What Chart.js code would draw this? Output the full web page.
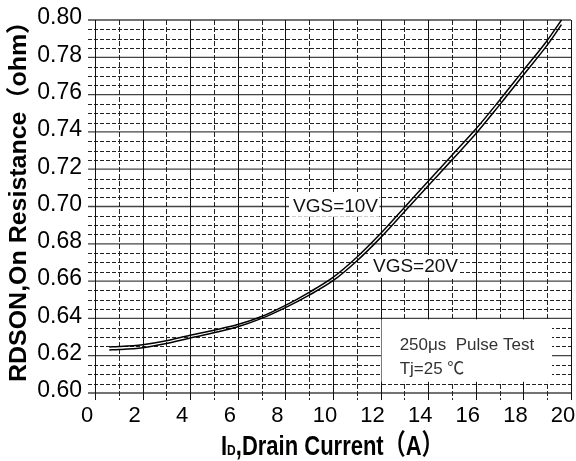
<!DOCTYPE html>
<html>
<head>
<meta charset="utf-8">
<script src="https://cdn.jsdelivr.net/npm/chart.js@4"></script>
<style>
  body { margin: 0; background: #fff; }
  canvas { display: block; }
</style>
</head>
<body>
<canvas id="chart" width="576" height="461"></canvas>
<script>
// drain current (A)
const currentA = [0.6, 1, 2, 3, 4, 5, 6, 7, 8, 9, 10, 11, 12, 13, 14, 15, 16, 17, 18, 19, 19.6];
// on resistance (ohm)
const rdsVgs10 = [0.6247, 0.6249, 0.6259, 0.6280, 0.6310, 0.6337, 0.6367, 0.6410, 0.6470, 0.6540, 0.6620,
  0.6728, 0.6855, 0.6995, 0.7135, 0.7275, 0.7415, 0.7570, 0.7730, 0.7890, 0.8000];
const rdsVgs20 = [0.6231, 0.6233, 0.6243, 0.6265, 0.6295, 0.6323, 0.6355, 0.6400, 0.6458, 0.6525, 0.6602,
  0.6708, 0.6833, 0.6972, 0.7111, 0.7250, 0.7390, 0.7545, 0.7705, 0.7865, 0.7975];

const xTicks = [0, 2, 4, 6, 8, 10, 12, 14, 16, 18, 20];
const yTicks = [0.60, 0.62, 0.64, 0.66, 0.68, 0.70, 0.72, 0.74, 0.76, 0.78, 0.80];
const xMinorStep = 1;
const yMinorStep = 0.005;

const seriesLabels = ["VGS=10V", "VGS=20V"];
const noteLines = ["250μs  Pulse Test", "Tj=25 ℃"];

const toPoints = (ys) => currentA.map((x, i) => ({ x: x, y: ys[i] }));

// grid, label boxes and axis titles
const decor = {
  id: "decor",
  beforeDatasetsDraw(chart) {
    const { ctx, chartArea: a, scales: { x, y } } = chart;
    ctx.save();

    // horizontal lines
    for (let v = 0.6; v <= 0.8001; v += yMinorStep) {
      const major = yTicks.some((t) => Math.abs(t - v) < 1e-6);
      const py = y.getPixelForValue(v);
      ctx.beginPath();
      if (major) {
        ctx.setLineDash([]);
        ctx.strokeStyle = "#444";
        ctx.lineWidth = 1.3;
        ctx.moveTo(a.left - 7, py);
      } else {
        ctx.setLineDash([4, 2]);
        ctx.strokeStyle = "#222";
        ctx.lineWidth = 1;
        ctx.moveTo(a.left - 7, Math.round(py) + 0.5);
      }
      ctx.lineTo(a.right, major ? py : Math.round(py) + 0.5);
      ctx.stroke();
    }

    // vertical lines
    for (let v = 0; v <= 20; v += xMinorStep) {
      const major = xTicks.includes(v);
      const px = Math.round(x.getPixelForValue(v)) + 0.5;
      ctx.beginPath();
      ctx.setLineDash(major ? [] : [5, 2]);
      ctx.strokeStyle = major ? "#111" : "#222";
      ctx.lineWidth = 1;
      ctx.moveTo(px, a.top);
      ctx.lineTo(px, a.bottom + 7);
      ctx.stroke();
    }
    ctx.setLineDash([]);

    const box = (x0, x1, y0, y1) => {
      const l = x.getPixelForValue(x0), r = x.getPixelForValue(x1);
      const t = y.getPixelForValue(y0), b = y.getPixelForValue(y1);
      ctx.fillStyle = "#fff";
      ctx.fillRect(l, t, r - l, b - t);
    };

    // series labels
    ctx.font = "19px 'Liberation Sans', Arial, sans-serif";
    ctx.textBaseline = "alphabetic";
    box(8.15, 11.95, 0.7078, 0.6945);
    ctx.fillStyle = "#111";
    ctx.fillText(seriesLabels[0], x.getPixelForValue(8.32), y.getPixelForValue(0.6971));
    box(11.55, 15.25, 0.6740, 0.6617);
    ctx.fillStyle = "#111";
    ctx.fillText(seriesLabels[1], x.getPixelForValue(11.68), y.getPixelForValue(0.6649));

    // test conditions note
    box(12.04, 19.2, 0.6395, 0.6060);
    ctx.font = "17px 'Liberation Sans', Arial, 'Noto Sans CJK SC', sans-serif";
    ctx.fillStyle = "#333";
    ctx.fillText(noteLines[0], x.getPixelForValue(12.8), y.getPixelForValue(0.6231));
    ctx.fillText(noteLines[1], x.getPixelForValue(12.8), y.getPixelForValue(0.6102));

    ctx.restore();
  },
  afterDraw(chart) {
    const { ctx } = chart;
    ctx.save();
    ctx.fillStyle = "#000";
    ctx.textBaseline = "alphabetic";
    ctx.textAlign = "left";

    // y title, reading upwards from the bottom
    ctx.translate(26, 382);
    ctx.rotate(-Math.PI / 2);
    ctx.scale(1.04, 1);
    ctx.font = "bold 24px 'Liberation Sans', Arial, 'Noto Sans CJK SC', sans-serif";
    ctx.fillText("RDSON,On Resistance（ohm）", 0, 0);
    ctx.setTransform(1, 0, 0, 1, 0, 0);

    // x title with subscript D, drawn a bit taller than wide like the original
    const big = "bold 22px 'Liberation Sans', Arial, 'Noto Sans CJK SC', sans-serif";
    const small = "bold 12px 'Liberation Sans', Arial, sans-serif";
    const rest = ",Drain Current（A）";
    ctx.translate(221, 455);
    ctx.scale(1, 1.28);
    let px = 0;
    ctx.font = big;
    ctx.fillText("I", px, 0);
    px += ctx.measureText("I").width;
    ctx.font = small;
    ctx.fillText("D", px, 0);
    px += ctx.measureText("D").width;
    ctx.font = big;
    ctx.fillText(rest, px, 0);
    ctx.restore();
  }
};

const tickFont = { family: "'Liberation Sans', Arial, sans-serif", size: 22 };

new Chart(document.getElementById("chart"), {
  type: "line",
  data: {
    datasets: [
      { label: seriesLabels[0], data: toPoints(rdsVgs10), borderColor: "#000", borderWidth: 1.5,
        pointRadius: 0, cubicInterpolationMode: "monotone", fill: false },
      { label: seriesLabels[1], data: toPoints(rdsVgs20), borderColor: "#000", borderWidth: 1.5,
        pointRadius: 0, cubicInterpolationMode: "monotone", fill: false }
    ]
  },
  options: {
    responsive: false,
    animation: false,
    events: [],
    layout: { padding: { top: 20, right: 5, left: 0, bottom: 0 } },
    plugins: { legend: { display: false }, tooltip: { enabled: false } },
    scales: {
      x: {
        type: "linear",
        min: 0,
        max: 20,
        grid: { display: false, drawTicks: false },
        border: { display: false },
        ticks: {
          stepSize: 2,
          font: tickFont,
          color: "#000",
          padding: 10,
          labelOffset: -8,
          maxRotation: 0,
          autoSkip: false
        },
        afterFit(scale) {
          scale.height = 68;
          scale.paddingLeft = 0;
          scale.paddingRight = 0;
        }
      },
      y: {
        type: "linear",
        min: 0.6,
        max: 0.8,
        grid: { display: false, drawTicks: false },
        border: { display: false },
        ticks: {
          stepSize: 0.02,
          font: { family: "'Liberation Sans', Arial, sans-serif", size: 23 },
          color: "#000",
          padding: 13,
          labelOffset: -2,
          autoSkip: false,
          callback: (v) => Number(v).toFixed(2)
        },
        afterFit(scale) {
          scale.width = 95;
          scale.paddingTop = 0;
          scale.paddingBottom = 0;
        }
      }
    }
  },
  plugins: [decor]
});
</script>
</body>
</html>
